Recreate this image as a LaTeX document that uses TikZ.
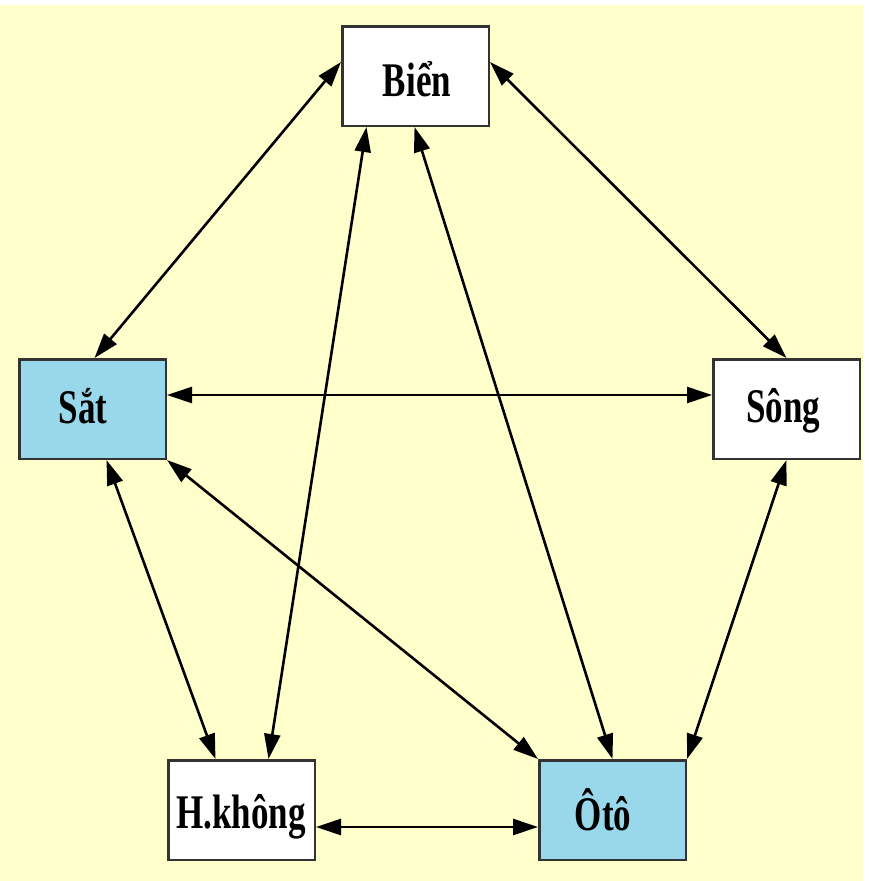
\documentclass[tikz,border=0pt]{standalone}
\usepackage{fontspec}
\setmainfont{Liberation Serif}
\usetikzlibrary{arrows.meta}
\definecolor{paper}{HTML}{FFFFCC}
\definecolor{boxblue}{HTML}{98D8EA}
\definecolor{edge}{HTML}{333333}
\tikzset{
  mode/.style={draw=edge, line width=2.5pt, minimum width=146.5pt, minimum height=99.5pt, inner sep=0pt},
  modename/.style={anchor=base, inner sep=0pt, font=\fontsize{35}{40}\selectfont\bfseries},
  tip/.tip={Triangle[length=25pt,width=16pt]},
  link/.style={line width=2.6pt, tip-tip}
}
\newcommand{\tall}[1]{\scalebox{1}[1.38]{#1}}
\begin{document}
\begin{tikzpicture}[x=1pt,y=1pt]
  % page and paper
  \fill[white] (0,0) rectangle (868,-881);
  \fill[paper] (0,-5) rectangle (863,-881);
  \useasboundingbox (0,0) rectangle (868,-881);

  % transport modes
  \node[mode, fill=white]   (bien)  at (415.5,-76)  {};
  \node[mode, fill=boxblue] (sat)   at (92.5,-409)  {};
  \node[mode, fill=white]   (song)  at (786.5,-409) {};
  \node[mode, fill=white]   (hk)    at (241.5,-810) {};
  \node[mode, fill=boxblue] (oto)   at (612.5,-810) {};

  \node[modename] (bienT) at (417,-96)  {\tall{Biển}};
  \node[modename] (satT)  at (83,-423)  {\tall{Sắt}};
  \node[modename] (songT) at (783,-422) {\tall{Sông}};
  \node[modename] (hkT)   at (241,-828) {\tall{H.không}};
  \node[modename] (otoT)  at (603,-830) {\tall{Ôtô}};

  % links between modes
  \draw[link] ([yshift=14pt]bien.west) -- ([xshift=2pt]sat.north);
  \draw[link] ([xshift=-49pt]bien.south) -- ([xshift=27pt]hk.north);
  \draw[link] ([xshift=-1pt]bien.south) -- (oto.north);
  \draw[link] ([yshift=14pt]bien.east) -- (song.north);
  \draw[link] ([yshift=14pt]sat.east) -- ([yshift=14pt]song.west);
  \draw[link] ([xshift=14pt]sat.south) -- ([xshift=-26pt]hk.north);
  \draw[link] (sat.south east) -- (oto.north west);
  \draw[link] (song.south) -- (oto.north east);
  \draw[link] ([yshift=-17pt]hk.east) -- ([yshift=-17pt]oto.west);
\end{tikzpicture}
\end{document}
